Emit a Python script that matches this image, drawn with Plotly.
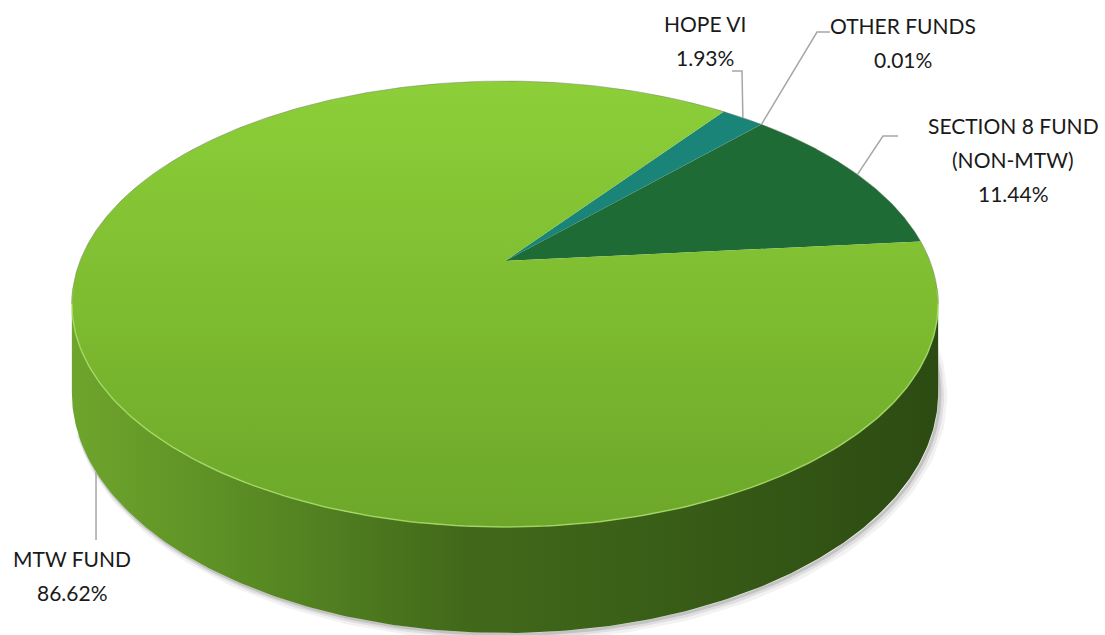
import numpy as np
import plotly.graph_objects as go

# ---- data (clockwise from the first slice) ----
categories = ["HOPE VI", "OTHER FUNDS", "SECTION 8 FUND\n(NON-MTW)", "MTW FUND"]
shares = [1.93, 0.01, 11.44, 86.62]
top_colors = ["#1A8479", "#1C7D5E", "#1F6B36", None]  # None -> gradient fill
pct_labels = [f"{v:.2f}%" for v in shares]

# ---- 3-D pie geometry (pixel units, y grows downward) ----
W, H = 1105, 635
CX, CY = 505, 261          # projected centre of the top face
SX, SY = 425, 214.7        # horizontal / depth scale
K = 0.193                  # perspective strength
DEPTH = 85.5               # thickness of the disc
START = 36.5               # first slice angle, clockwise from 12 o'clock

def proj(a_deg, d=0.0):
    a = np.radians(a_deg)
    x3, z3 = np.sin(a), -np.cos(a)
    w = 1 - K * z3
    return CX + SX * x3 / w, CY + (SY * z3 + DEPTH * d) / w

# slice angle ranges
total = sum(shares)
bounds = START + 360 * np.concatenate([[0], np.cumsum(shares)]) / total
# visible front arc of the side wall (silhouette where x is extreme)
vis_lo = 180 - np.degrees(np.arccos(K))
vis_hi = 180 + np.degrees(np.arccos(K))

fig = go.Figure()

# soft drop shadow under the front rim
for off, wd, op in [(7, 10, 0.05), (5, 6, 0.08), (3, 3, 0.12)]:
    a = np.linspace(40, 250, 200)
    sx, sy = proj(a, 1.0)
    fig.add_trace(go.Scatter(x=sx + off * 0.6, y=sy + off * 0.5, mode="lines",
                             line=dict(color=f"rgba(0,0,0,{op})", width=wd),
                             hoverinfo="skip", showlegend=False))

# side wall of each slice that faces the viewer
side_scale = [[0, "#6EA52C"], [0.15, "#5F9326"], [0.45, "#42691A"],
              [0.75, "#365A16"], [1, "#2C4B12"]]
for i, name in enumerate(categories):
    a0, a1 = bounds[i], bounds[i + 1]
    for shift in (0, 360):
        l2, h2 = max(a0, vis_lo + shift), min(a1, vis_hi + shift)
        if h2 <= l2:
            continue
        a = np.linspace(l2, h2, 200)
        tx, ty = proj(a, 0)
        bx, by = proj(a[::-1], 1)
        xs = np.concatenate([tx, bx, tx[:1]])
        ys = np.concatenate([ty, by, ty[:1]])
        fig.add_trace(go.Scatter(
            x=xs, y=ys, mode="lines", fill="toself", line=dict(width=0),
            fillgradient=dict(type="horizontal", colorscale=side_scale),
            hoverinfo="skip", showlegend=False))

# top face slices
for i, name in enumerate(categories):
    a = np.linspace(bounds[i], bounds[i + 1], max(4, int((bounds[i + 1] - bounds[i]) * 3)))
    ax_, ay_ = proj(a, 0)
    xs = np.concatenate([[CX], ax_, [CX]])
    ys = np.concatenate([[CY], ay_, [CY]])
    if top_colors[i] is None:
        fig.add_trace(go.Scatter(
            x=xs, y=ys, mode="lines", fill="toself", line=dict(width=0),
            fillgradient=dict(type="vertical",
                              colorscale=[[0, "#6CA72A"], [0.5, "#7EBC30"], [1, "#8CCF39"]]),
            hoverinfo="skip", showlegend=False))
    else:
        fig.add_trace(go.Scatter(
            x=xs, y=ys, mode="lines", fill="toself", line=dict(width=0),
            fillcolor=top_colors[i], hoverinfo="skip", showlegend=False))

# light bevel along the front rim, thin grey edge along the back
a = np.linspace(vis_lo - 4, vis_hi + 4, 200)
hx, hy = proj(a, 0)
fig.add_trace(go.Scatter(x=hx, y=hy, mode="lines",
                         line=dict(color="rgba(170,222,105,0.8)", width=1.5),
                         hoverinfo="skip", showlegend=False))
a = np.linspace(vis_hi, vis_lo + 360, 300)
gx, gy = proj(a, 0)
fig.add_trace(go.Scatter(x=gx, y=gy, mode="lines",
                         line=dict(color="rgba(110,120,100,0.45)", width=1),
                         hoverinfo="skip", showlegend=False))

# ---- labels and leader lines ----
label_pos = {   # text centre x, first line y, leader points after the rim anchor
    "HOPE VI": (705, 23, [(742, 71), (732, 71)]),
    "OTHER FUNDS": (903, 25, [(817, 32), (830, 32)]),
    "SECTION 8 FUND\n(NON-MTW)": (1013, 125, [(883, 136), (898, 136)]),
    "MTW FUND": (72, 558, "down"),
}
LINE_STEP = 34
font = dict(family="Lato, 'Open Sans', sans-serif", size=21, color="#1A1A1A")

for i, name in enumerate(categories):
    tx, ty, leader = label_pos[name]
    mid = (bounds[i] + bounds[i + 1]) / 2
    front = vis_lo <= (mid % 360) <= vis_hi
    px_, py_ = proj(mid, 1.0 if front else 0.0)
    if leader == "down":
        pts = [(px_, py_), (px_, ty - 18)]
    else:
        pts = [(px_, py_)] + leader
    fig.add_trace(go.Scatter(x=[p[0] for p in pts], y=[p[1] for p in pts], mode="lines",
                             line=dict(color="#A6A6A6", width=1.5),
                             hoverinfo="skip", showlegend=False))
    lines = name.split("\n") + [pct_labels[i]]
    for j, txt in enumerate(lines):
        fig.add_annotation(x=tx, y=ty + j * LINE_STEP, text=txt, showarrow=False,
                           xanchor="center", yanchor="middle", font=font)

fig.update_layout(
    width=W, height=H, margin=dict(l=0, r=0, t=0, b=0),
    paper_bgcolor="white", plot_bgcolor="white",
    xaxis=dict(range=[0, W], visible=False, fixedrange=True),
    yaxis=dict(range=[H, 0], visible=False, fixedrange=True),
    showlegend=False,
)

fig.write_html("out.html")
